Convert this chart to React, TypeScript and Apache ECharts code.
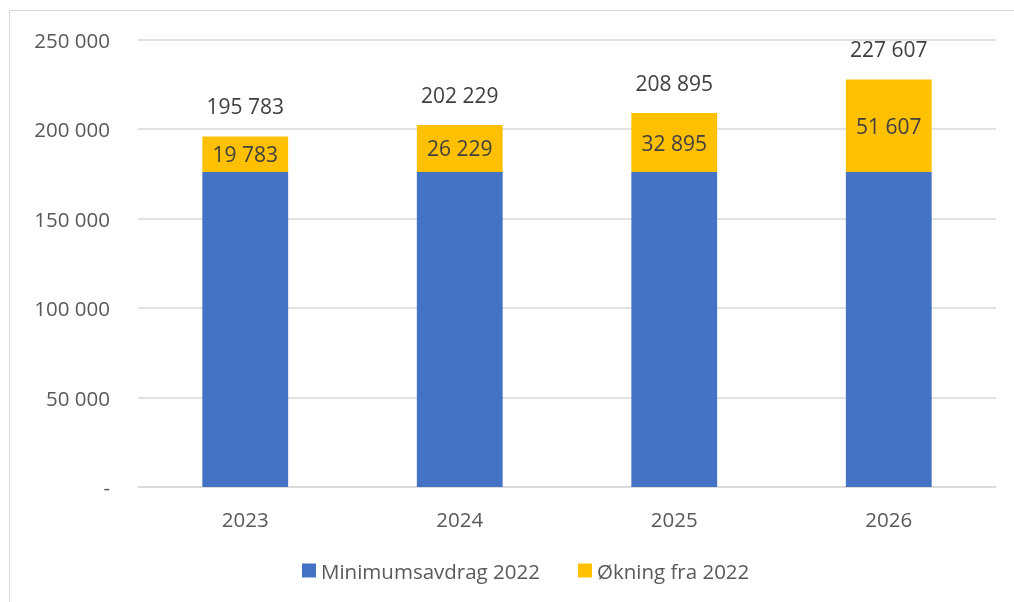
import React, { useEffect, useRef } from "react";
import * as echarts from "echarts";

const categories = ["2023", "2024", "2025", "2026"];
const baseValues = [176000, 176000, 176000, 176000];
const increaseValues = [19783, 26229, 32895, 51607];
const totalValues = [195783, 202229, 208895, 227607];
const seriesNames = ["Minimumsavdrag 2022", "Økning fra 2022"];

const fmt = (v: number) => (v === 0 ? "-" : String(v).replace(/\B(?=(\d{3})+(?!\d))/g, " "));

export default function App() {
  const ref = useRef<HTMLDivElement>(null);
  useEffect(() => {
    const chart = echarts.init(ref.current!, null, { renderer: "svg" });
    const font = "Open Sans, Noto Sans, sans-serif";
    chart.setOption({
      animation: false,
      textStyle: { fontFamily: font },
      graphic: [
        {
          type: "rect",
          shape: { x: 9.5, y: 10.5, width: 1100, height: 700 },
          style: { fill: "none", stroke: "#d9d9d9", lineWidth: 1 },
          silent: true,
        },
      ],
      grid: { left: 138, right: 18, top: 39.5, bottom: 115, containLabel: false },
      legend: {
        data: seriesNames,
        bottom: 16,
        left: 297,
        itemWidth: 14,
        itemHeight: 14,
        itemGap: 38,
        icon: "rect",
        textStyle: { fontSize: 20.5, color: "#595959", fontFamily: font },
      },
      xAxis: {
        type: "category",
        data: categories,
        axisTick: { show: false },
        axisLine: { lineStyle: { color: "#d9d9d9", width: 1.5 } },
        axisLabel: { fontSize: 20.5, color: "#595959", margin: 21, fontFamily: font },
      },
      yAxis: {
        type: "value",
        min: 0,
        max: 250000,
        interval: 50000,
        axisLine: { show: false },
        axisTick: { show: false },
        splitLine: { lineStyle: { color: "#d9d9d9", width: 1.5 } },
        axisLabel: { fontSize: 20.5, color: "#595959", margin: 28, formatter: fmt, fontFamily: font },
      },
      series: [
        {
          name: seriesNames[0],
          type: "bar",
          stack: "s",
          barWidth: "40%",
          data: baseValues,
          itemStyle: { color: "#4472C4" },
        },
        {
          name: seriesNames[1],
          type: "bar",
          stack: "s",
          data: increaseValues,
          itemStyle: { color: "#FFC000" },
          label: {
            show: true,
            position: "inside",
            fontSize: 21,
            color: "#404040",
            fontFamily: font,
            formatter: (p: any) => fmt(p.value),
          },
        },
        {
          name: "Total",
          type: "bar",
          stack: "s",
          data: totalValues.map(() => 0),
          itemStyle: { color: "transparent" },
          label: {
            show: true,
            position: "top",
            distance: 20,
            fontSize: 21,
            color: "#404040",
            fontFamily: font,
            formatter: (p: any) => fmt(totalValues[p.dataIndex]),
          },
        },
      ],
    });
    return () => chart.dispose();
  }, []);
  return <div ref={ref} style={{ position: "fixed", left: 0, top: 0, width: 1014, height: 602 }} />;
}
